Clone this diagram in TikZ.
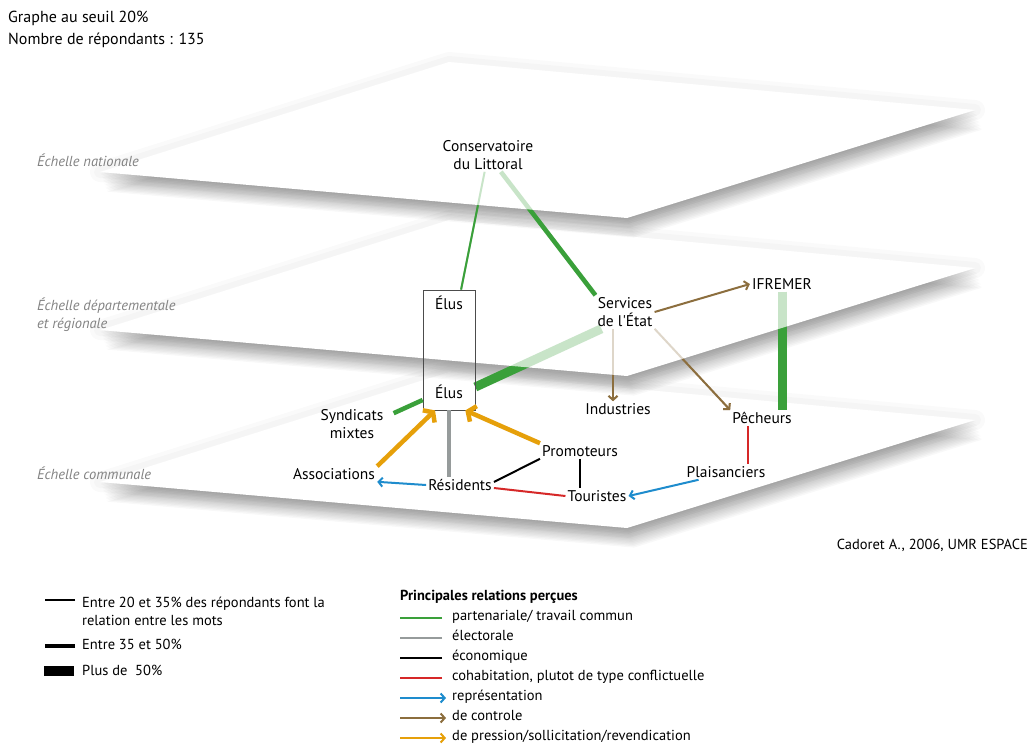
\documentclass[tikz,border=0pt]{standalone}
\usepackage{fontspec}
\setmainfont{PT Sans}
\usepackage{xcolor}
\usepackage{tikz}
\usetikzlibrary{arrows.meta, positioning, backgrounds}

\definecolor{cvert}{RGB}{58,160,58}
\definecolor{cgris}{RGB}{150,155,155}
\definecolor{crouge}{RGB}{214,40,40}
\definecolor{cbleu}{RGB}{30,140,205}
\definecolor{cbrun}{RGB}{140,110,62}
\definecolor{corange}{RGB}{230,160,10}
\definecolor{cechelle}{RGB}{130,130,130}

\tikzset{
  acteur/.style={
    font=\fontsize{15.5}{18}\selectfont,
    align=center,
    inner sep=2pt,
  },
  echelle/.style={
    font=\fontsize{14.5}{18}\selectfont\itshape,
    text=cechelle,
    align=left,
    anchor=west,
    inner sep=0pt,
  },
  legende/.style={
    font=\fontsize{14.5}{18}\selectfont,
    align=left,
    anchor=west,
    inner sep=0pt,
  },
  entree/.style={
    legende,
    text height=1.6ex,
    text depth=0.5ex,
  },
  faible/.style={line width=2pt},
  moyen/.style={line width=4.5pt},
  fort/.style={line width=9pt},
  partenariale/.style={draw=cvert, faible},
  electorale/.style={draw=cgris, faible},
  economique/.style={draw=black, faible},
  cohabitation/.style={draw=crouge, faible},
  representation/.style={draw=cbleu, faible, -{Straight Barb[length=4pt,width=9pt]}},
  controle/.style={draw=cbrun, faible, -{Straight Barb[length=4pt,width=9pt]}},
  pression/.style={draw=corange, moyen, -{Straight Barb[length=6pt,width=17pt]}},
  estompe/.style={draw opacity=0.28},
}

% plateau d'une echelle : halo et ombre portee, puis fond blanc
\newcommand{\ombreplateau}[1]{%
  \foreach \w in {20,12}
    \draw[black, draw opacity=0.02, line width=\w pt, line join=round, shift={(0,#1)}]
      (100,0) -- (449,-110) -- (975,-62) -- (627,46) -- cycle;
  \foreach \d in {1,...,14}
    \fill[black, fill opacity=0.028, shift={(0.5*\d,#1+1.4*\d)}]
      (100,0) -- (449,-110) -- (975,-62) -- (627,46) -- cycle;}
\newcommand{\fondplateau}[1]{%
  \fill[white, shift={(0,#1)}]
    (100,0) -- (449,-110) -- (975,-62) -- (627,46) -- cycle;}

% liens qui passent d'un plateau a l'autre (estompes sous le plateau)
\newcommand{\liensbas}[1]{%
  \draw[partenariale, fort, #1] ([yshift=-37pt]elusbox.east) -- ([xshift=6pt]services.south west);
  \draw[controle, #1] ([xshift=-12pt]services.south) -- ([xshift=-12pt]services.south |- industries.north);
  \draw[controle, #1] (services.south east) -- (pecheurs.north west);
  \draw[partenariale, fort, #1] (ifremer.south) -- (ifremer.south |- pecheurs.north);}
\newcommand{\lienshaut}[1]{%
  \draw[partenariale, #1] (cons) -- (elusbox);
  \draw[partenariale, moyen, #1] (cons) -- (services.north west);}

\begin{document}
\begin{tikzpicture}[x=1pt, y=-1pt]
  \useasboundingbox (0,0) rectangle (1032,747);

  % Titre
  \node[legende, font=\fontsize{16}{18}\selectfont] (titre) at (8,18) {Graphe au seuil 20\%};
  \node[legende, font=\fontsize{16}{18}\selectfont] (nombre) at (8,40) {Nombre de répondants : 135};

  % Echelles
  \node[echelle] (nationale) at (37,160) {Échelle nationale};
  \node[echelle] (departement) at (37,315) {Échelle départementale\\et régionale};
  \node[echelle] (commune) at (37,473) {Échelle communale};

  % Acteurs
  \node[acteur] (cons) at (488,155) {Conservatoire\\du Littoral};
  \node[draw=black!70, line width=0.7pt, minimum width=52pt, minimum height=120pt] (elusbox) at (449,350) {};
  \node[acteur] (elushaut) at ([yshift=-13pt]elusbox.north) {Élus};
  \node[acteur] (elusbas) at ([yshift=19pt]elusbox.south) {Élus};
  \node[acteur] (services) at (625,312) {Services\\de l\textquotesingle État};
  \node[acteur] (ifremer) at (782,284) {IFREMER};
  \node[acteur] (industries) at (618,409) {Industries};
  \node[acteur] (pecheurs) at (762,418) {Pêcheurs};
  \node[acteur] (syndicats) at (352,424) {Syndicats\\mixtes};
  \node[acteur] (associations) at (334,474) {Associations};
  \node[acteur] (residents) at (460,485) {Résidents};
  \node[acteur] (promoteurs) at (580,451) {Promoteurs};
  \node[acteur] (touristes) at (597,496) {Touristes};
  \node[acteur] (plaisanciers) at (726,472) {Plaisanciers};
  \node[entree, anchor=east] (source) at (1028,547) {Cadoret A., 2006, UMR ESPACE};

  % Plateaux, du bas vers le haut
  \begin{pgfonlayer}{background}
    \ombreplateau{482}
    \fondplateau{482}
    \ombreplateau{330}
    \liensbas{}
    \fondplateau{330}
    \liensbas{estompe}
    \ombreplateau{172}
    \lienshaut{}
    \fondplateau{172}
    \lienshaut{estompe}
  \end{pgfonlayer}

  % Liens sur un meme plateau
  \draw[controle] (services.east) -- (ifremer.west);
  \draw[partenariale, moyen] ([xshift=8pt,yshift=-6pt]syndicats.north east) -- ([yshift=-50pt]elusbox.west);
  \draw[electorale, moyen] (elusbox.south) -- (elusbox.south |- residents.north);
  \draw[pression] (associations.north east) -- ([xshift=-14pt]elusbox.south);
  \draw[pression] (promoteurs.north west) -- ([xshift=-10pt]elusbox.south east);
  \draw[representation] (residents.west) -- (associations.south east);
  \draw[economique] ([yshift=3pt]residents.east) -- (promoteurs.south west);
  \draw[economique] (promoteurs.south) -- (promoteurs.south |- touristes.north);
  \draw[cohabitation] ([yshift=-3pt]residents.east) -- (touristes.west);
  \draw[representation] ([xshift=14pt]plaisanciers.south west) -- (touristes.east);
  \draw[cohabitation] ([xshift=-14pt]pecheurs.south) -- ([xshift=-14pt]pecheurs.south |- plaisanciers.north);

  % Legende : seuils
  \node[legende] (seuil1) at (82,611) {Entre 20 et 35\% des répondants font la\\relation entre les mots};
  \node[entree] (seuil2) at (82,647) {Entre 35 et 50\%};
  \node[entree] (seuil3) at (82,673) {Plus de~ 50\%};
  \draw[faible] ([xshift=-7pt,yshift=11pt]seuil1.west) -- ++(-30,0);
  \draw[line width=4pt] ([xshift=-7pt,yshift=1pt]seuil2.west) -- ++(-30,0);
  \draw[line width=10pt] ([xshift=-8pt,yshift=2pt]seuil3.west) -- ++(-30,0);

  % Legende : relations
  \node[entree, font=\fontsize{14.5}{18}\selectfont\bfseries] (relations) at (400,598) {Principales relations perçues};
  \node[entree] (rel1) at (452,618) {partenariale/ travail commun};
  \node[entree] (rel2) at (452,638) {électorale};
  \node[entree] (rel3) at (452,658) {économique};
  \node[entree] (rel4) at (452,678) {cohabitation, plutot de type conflictuelle};
  \node[entree] (rel5) at (452,698) {représentation};
  \node[entree] (rel6) at (452,718) {de controle};
  \node[entree] (rel7) at (452,738) {de pression/sollicitation/revendication};
  \draw[partenariale] ([xshift=-10pt]rel1.west) -- ++(-42,0);
  \draw[electorale] ([xshift=-10pt]rel2.west) -- ++(-42,0);
  \draw[economique] ([xshift=-10pt]rel3.west) -- ++(-42,0);
  \draw[cohabitation] ([xshift=-10pt]rel4.west) -- ++(-42,0);
  \draw[representation] ([xshift=-52pt]rel5.west) -- ([xshift=-6pt]rel5.west);
  \draw[controle] ([xshift=-52pt]rel6.west) -- ([xshift=-6pt]rel6.west);
  \draw[draw=corange, faible, -{Straight Barb[length=4pt,width=9pt]}] ([xshift=-52pt]rel7.west) -- ([xshift=-6pt]rel7.west);
\end{tikzpicture}
\end{document}
